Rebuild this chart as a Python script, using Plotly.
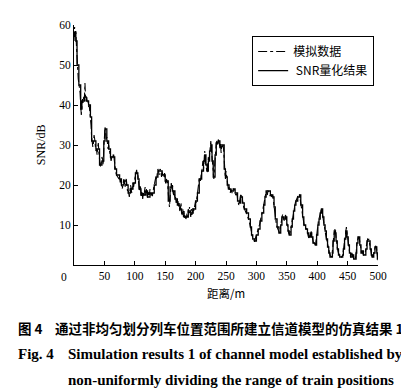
import plotly.graph_objects as go

# Simulated data (dash-dot)
sim_x = list(range(0, 70)) + [70, 72, 74] + list(range(75, 260)) + [260, 262, 264, 266, 268] + list(range(269, 275)) + [276, 277, 278, 279, 280, 282, 284] + list(range(285, 501))
sim_y = [56, 59.5, 57, 58.5, 55, 51, 48, 46.5, 45.5, 44.5, 43, 40, 37.5, 39.5, 41.5, 40.5, 42, 41, 45.5, 42,
         41, 42, 40.5, 41, 39.5, 40, 38.5, 37.5, 35, 32, 30, 29.5, 30.5, 32.5, 31.5, 29.5, 28.5, 29, 27.5, 29.5,
         30.5, 28, 26, 25, 24.5, 26, 27, 26.5, 25, 29, 32, 34.5, 33.5, 31.5, 32, 30.5, 29, 30, 28.5, 27.5,
         27, 26, 27, 27.5, 27, 28, 26.5, 25, 24, 23,
         22.5, 22, 21.5,
         22, 20.5, 21.5, 20, 19, 19.5, 20.5, 21.5, 20.5, 19.5, 21, 21.5, 20, 18.5, 19, 18, 17, 18.5, 20, 19,
         18, 19.5, 20.5, 19.5, 21, 22, 22.5, 23, 23.8, 22.5, 22.8, 21, 19, 18.5, 20, 17.5, 17, 18.5, 16.5, 18,
         17, 18.5, 19.5, 18, 19, 17.5, 16.8, 17.5, 18.5, 17.5, 19, 18, 17, 18, 17.2, 18.5, 19.5, 20, 20.5, 21.5,
         22, 21.5, 23, 24, 23.5, 22.5, 23.8, 24, 23, 22, 23.5, 22.5, 22.8, 22, 23, 21, 20, 21.5, 21, 20.5,
         18, 16, 14.5, 17, 19.5, 20.5, 19, 20, 18, 17.5, 18.5, 16.5, 17, 15.5, 16.5, 15, 16, 14.5, 15.5, 13.5,
         14, 15.5, 13, 12.5, 14, 12, 13.5, 11.8, 12.5, 11.5, 12, 13, 12, 14, 13, 14.5, 13, 12, 14, 12.5,
         13.5, 14.5, 13.5, 14.2, 15, 16, 15.5, 17, 17.5, 19, 20.5, 21.5, 22, 21, 22.5, 23, 24.5, 26, 24, 27,
         28.5, 26, 25, 24, 23, 25, 27, 26, 28, 29.5, 31, 29, 27, 24, 22, 21.5, 24, 27, 29, 30.5,
         31, 30, 31.5, 31, 30.5, 29, 30.5, 28, 30, 29.5, 30, 29, 26, 22, 21.5, 23.5, 22.5, 20.5, 19.5, 18.8,
         19.5, 18.5, 18, 19, 18.5,
         18, 19, 18.8, 17.5, 17.8,
         16.5, 16, 15, 15.5, 16.5, 17.5,
         17.2, 16, 15, 14.5, 14.2, 13.5, 13,
         12.5, 12, 11.5, 11, 10.5, 9.5, 9, 8, 7, 6.8, 6.5, 6, 5.8, 6.5, 7, 7.5, 7.6, 8, 9, 9.5,
         10, 10.5, 11.5, 12.5, 13, 13.5, 14.2, 15, 16, 17, 17.5, 18.4, 18, 17.5, 18.5, 18.4, 18, 17.5, 17.2, 18,
         17, 17.5, 17.2, 16, 14.5, 13, 11.8, 11, 10, 9.5, 9, 8.5, 8, 8, 9, 10, 11, 12, 12.6, 12,
         11.5, 11, 12, 12.5, 11.8, 10.5, 9.5, 9, 8, 7.6, 7.8, 8.5, 9.5, 10.5, 11.5, 12.6, 13.5, 14.5, 15, 15.5,
         16, 16.3, 16.5, 17, 17.5, 17.2, 17.6, 16.5, 15.5, 15, 14, 12.5, 11, 10, 9.5, 9.5, 9, 9.2, 8.5, 8,
         7.5, 6.8, 7, 7.5, 8, 8.4, 7.5, 6.5, 6, 5.5, 5.5, 5, 5, 6, 7.5, 8.5, 10, 11, 11.5, 12,
         13, 13.5, 14.3, 13.5, 12.5, 11, 10.5, 9.5, 8.5, 7.5, 6.8, 6, 5, 4, 3.4, 3, 2.5, 2.2, 2.2, 2,
         3, 5, 7, 8.8, 9, 8, 6.5, 5, 4.5, 3.5, 3, 2.5, 2.2, 2, 2.2, 2, 2.2, 2.5, 3.5, 5,
         6.5, 7.6, 8.5, 9.5, 8, 6.5, 5.5, 4.5, 3.5, 2.6, 2, 2.5, 3, 2.5, 3, 2, 1.5, 1.8, 1.75, 3,
         5, 6, 6.5, 7, 6.8, 5.5, 4.5, 3.4, 3, 3.5, 3, 2.5, 2.6, 2.6, 3, 4, 5, 6, 6.5, 6.4,
         6.4, 5.5, 4.5, 3.5, 2.6, 2, 1.8, 2.5, 3, 3.8, 4.2, 4.8, 4.6, 3.5, 2, 1.2]

# SNR quantized result (solid, step)
q_x = [0, 3, 5, 8, 11, 13, 17, 20, 24, 27, 29, 33, 36, 40, 42, 46, 49, 51, 54, 57, 60, 63, 67, 70, 75, 78,
       82, 86, 89, 93, 97, 101, 105, 107, 110, 114, 118, 121, 125, 129, 132, 135, 138, 142, 145, 150, 155,
       158, 162, 166, 170, 174, 177, 181, 185, 188, 192, 196, 200, 203, 206, 210, 213, 215, 217, 219, 221,
       223, 225, 227, 229, 232, 234, 237, 240, 243, 247, 249, 252, 255, 258, 262, 265, 269, 272, 274, 277,
       280, 284, 287, 290, 292, 294, 297, 300, 303, 306, 309, 312, 314, 316, 320, 323, 327, 329, 331, 334,
       337, 340, 342, 345, 348, 350, 352, 354, 357, 359, 361, 363, 365, 368, 371, 373, 376, 378, 381, 384,
       386, 389, 391, 393, 397, 399, 401, 403, 405, 407, 409, 411, 413, 415, 417, 419, 421, 425, 426, 428,
       430, 431, 433, 435, 437, 442, 443, 445, 447, 449, 451, 453, 455, 458, 460, 464, 465, 467, 470, 472,
       474, 476, 480, 482, 485, 487, 489, 491, 493, 495, 498, 499, 500]
q_y = [58, 56, 50, 45, 39, 41, 42, 41, 40, 37, 31, 31, 29, 29, 25, 26, 31, 34, 31, 29, 27, 27, 24, 22.5,
       21.5, 20, 21, 20, 18, 19, 20.5, 23, 21.5, 19, 17.5, 17.5, 18.5, 17, 18, 18, 20, 22, 23.5, 23.5, 22.5,
       21, 16, 19.5, 18.5, 16.5, 15, 14, 13, 12, 12, 13.5, 13, 14, 16, 18, 21.5, 23.5, 26, 27.5, 25, 23.5,
       26, 28.5, 30, 26, 22, 27.5, 30.5, 31, 30, 30, 24, 22, 20, 19, 18.5, 19, 18, 16, 15.5, 17, 15.5, 14,
       13, 11.5, 9.5, 7.5, 6.5, 6, 7.5, 9, 11, 13, 15, 17, 18.5, 18.5, 17.5, 17, 14.5, 11.5, 9.5, 8, 10,
       12, 11.5, 12, 10, 8.5, 7.5, 9.5, 11.5, 13.5, 15, 16, 17, 17.5, 15, 12, 10, 9, 8, 7, 8, 7, 5.5, 5,
       7.5, 10, 11.5, 13, 14, 12, 10, 8.5, 6.5, 4.5, 3, 2, 3, 6, 8.5, 8, 6, 4, 2.5, 2, 2.5, 4, 6.5, 8.5,
       7, 5, 3, 2, 2.5, 1.5, 3, 5.5, 7, 5, 3, 3.5, 2.5, 4, 6, 6, 4, 2.5, 2, 3, 4.5, 3, 1.5, 1.5]

x_ticks = [50, 100, 150, 200, 250, 300, 350, 400, 450, 500]
y_ticks = [10, 20, 30, 40, 50, 60]

serif = "Liberation Serif"
cjk = "Noto Sans CJK SC"

fig = go.Figure()
fig.add_trace(go.Scatter(x=sim_x, y=sim_y, mode="lines", name="模拟数据",
                         line=dict(color="black", width=1.1, dash="dashdot")))
fig.add_trace(go.Scatter(x=q_x, y=q_y, mode="lines", name=" SNR量化结果", line_shape="hv",
                         line=dict(color="black", width=1.3)))

fig.update_layout(
    width=409, height=390,
    margin=dict(l=66, r=39, t=17, b=133),
    paper_bgcolor="white", plot_bgcolor="white",
    font=dict(family=serif, size=11, color="black"),
    showlegend=True,
    legend=dict(x=0.586, y=0.954, xanchor="left", yanchor="top",
                bordercolor="black", borderwidth=1, bgcolor="white",
                font=dict(family=cjk, size=12, color="black"),
                tracegroupgap=0, itemwidth=30),
    xaxis=dict(range=[0, 500], tickvals=x_ticks, ticktext=[str(v) for v in x_ticks],
               ticks="inside", ticklen=4, tickcolor="black", showline=True, linecolor="black",
               linewidth=1, showgrid=False, zeroline=False, mirror=False,
               tickfont=dict(family=serif, size=11.5)),
    yaxis=dict(range=[0, 60], tickvals=y_ticks, ticktext=[str(v) for v in y_ticks],
               ticks="inside", ticklen=4, tickcolor="black", showline=True, linecolor="black",
               linewidth=1, showgrid=False, zeroline=False, mirror=False,
               tickfont=dict(family=serif, size=11.5)),
)

ann = [
    dict(x=-0.033, y=-0.048, text="0", font=dict(family=serif, size=11.5)),
    dict(x=0.5, y=-0.117, text="距离/m", font=dict(family=cjk, size=11.5), yanchor="middle"),
    dict(x=-0.108, y=0.5, text="SNR/dB", textangle=-90, font=dict(family=serif, size=12)),
    dict(x=-0.1908, y=-0.2625, text="<b>图 4</b>", xanchor="left", font=dict(family=cjk, size=13.5)),
    dict(x=-0.0691, y=-0.2625, text="<b>通过非均匀划分列车位置范围所建立信道模型的仿真结果 1</b>",
         xanchor="left", font=dict(family=cjk, size=13.5)),
    dict(x=-0.1908, y=-0.3696, text="<b>Fig. 4</b>", xanchor="left", font=dict(family=serif, size=15)),
    dict(x=-0.0263, y=-0.3696, text="<b>Simulation results 1 of channel model established by</b>",
         xanchor="left", font=dict(family=serif, size=15)),
    dict(x=-0.0263, y=-0.4779, text="<b>non-uniformly dividing the range of train positions</b>",
         xanchor="left", font=dict(family=serif, size=15)),
]
for a in ann:
    a.setdefault("xanchor", "center")
    a.setdefault("yanchor", "middle")
    fig.add_annotation(xref="paper", yref="paper", showarrow=False, **a)

fig.write_html("out.html")
